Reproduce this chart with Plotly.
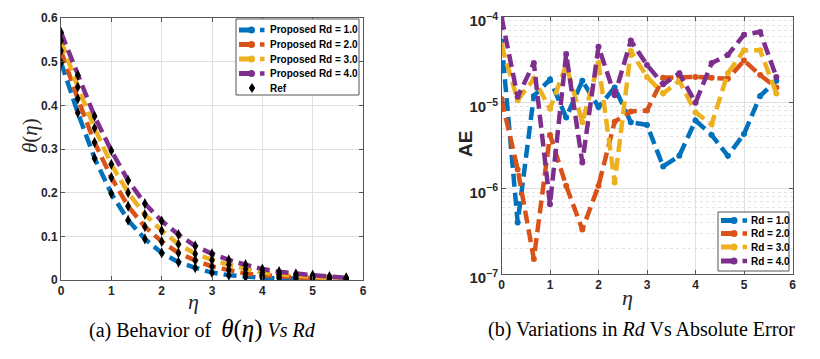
import plotly.graph_objects as go

eta = [0, 1/3, 2/3, 1, 4/3, 5/3, 2, 7/3, 8/3, 3, 10/3, 11/3, 4, 13/3, 14/3, 5, 16/3, 17/3]

theta_rd1 = [0.498, 0.383, 0.279, 0.198, 0.137, 0.094, 0.062, 0.041, 0.028, 0.017, 0.011, 0.007, 0.005, 0.004, 0.003, 0.002, 0.0015, 0.001]
theta_rd2 = [0.525, 0.415, 0.315, 0.235, 0.169, 0.122, 0.088, 0.062, 0.045, 0.031, 0.023, 0.015, 0.011, 0.008, 0.005, 0.004, 0.003, 0.002]
theta_rd3 = [0.548, 0.442, 0.348, 0.265, 0.200, 0.150, 0.113, 0.082, 0.060, 0.046, 0.035, 0.025, 0.017, 0.013, 0.009, 0.007, 0.005, 0.004]
theta_rd4 = [0.567, 0.469, 0.375, 0.296, 0.228, 0.175, 0.135, 0.104, 0.078, 0.060, 0.046, 0.035, 0.025, 0.019, 0.014, 0.011, 0.008, 0.005]

ae_rd1 = [5.2e-5, 4.0e-7, 1.2e-5, 1.86e-5, 6.7e-6, 1.8e-5, 8.9e-6, 1.5e-5, 5.9e-6, 5.5e-6, 1.8e-6, 2.4e-6, 6.2e-6, 4.2e-6, 2.4e-6, 4.3e-6, 1.2e-5, 1.8e-5]
ae_rd2 = [1.1e-5, 1.66e-6, 1.5e-7, 4.2e-6, 1.07e-6, 3.3e-7, 1.07e-6, 6.0e-6, 7.9e-6, 8.1e-6, 1.95e-5, 2.0e-5, 2.0e-5, 1.95e-5, 1.9e-5, 3.1e-5, 2.1e-5, 1.5e-5]
ae_rd3 = [4.7e-5, 1.07e-5, 1.9e-5, 8.5e-6, 2.75e-5, 5.9e-6, 2.9e-5, 1.17e-6, 4.0e-5, 2.0e-5, 1.28e-5, 1.8e-5, 7.7e-6, 5.6e-6, 2.2e-5, 4.1e-5, 4.1e-5, 1.28e-5]
ae_rd4 = [1.0e-4, 1.17e-5, 2.9e-5, 6.5e-7, 3.7e-5, 2.0e-6, 4.5e-5, 1.22e-5, 5.3e-5, 2.75e-5, 1.64e-5, 2.2e-5, 1.0e-5, 2.9e-5, 3.6e-5, 6.2e-5, 6.7e-5, 2.0e-5]

rd_labels = ["1.0", "2.0", "3.0", "4.0"]
colors = ["#0072BD", "#D95319", "#EDB120", "#7E2F8E"]

# page is 820x359 with an 8px body margin around the figure
OFF = 8
W, H = 820 - 2 * OFF, 359 - 2 * OFF
def fx(p):
    return (p - OFF) / W
def fy(p):
    return 1 - (p - OFF) / H

fig = go.Figure()

thetas = [theta_rd1, theta_rd2, theta_rd3, theta_rd4]
for lab, col, th in zip(rd_labels, colors, thetas):
    fig.add_trace(go.Scatter(
        x=eta, y=th, mode="lines+markers", name=f"Proposed Rd = {lab}",
        line=dict(color=col, width=4.5, dash="13px,6px"),
        marker=dict(symbol="circle", size=5, color=col),
        xaxis="x", yaxis="y"))

ref_x, ref_y = [], []
for th in thetas:
    ref_x += eta
    ref_y += th
fig.add_trace(go.Scatter(
    x=ref_x, y=ref_y, mode="markers", name="Ref",
    marker=dict(symbol="diamond-tall", size=8, color="black"),
    xaxis="x", yaxis="y"))

aes = [ae_rd1, ae_rd2, ae_rd3, ae_rd4]
for lab, col, ae in zip(rd_labels, colors, aes):
    fig.add_trace(go.Scatter(
        x=eta, y=ae, mode="lines+markers", name=f"Rd = {lab}",
        line=dict(color=col, width=4.5, dash="13px,6px"),
        marker=dict(symbol="circle", size=6, color=col),
        xaxis="x2", yaxis="y2"))

tickfont = dict(family="Liberation Sans", size=12, color="#262626", weight="bold")
axcommon = dict(showline=True, linecolor="#555", linewidth=1, mirror="ticks",
                ticks="inside", ticklen=4, tickcolor="#555",
                showgrid=True, gridcolor="#e0e0e0", gridwidth=1,
                zeroline=False, tickfont=tickfont, automargin=False,
                ticklabeloverflow="allow")

fig.update_layout(
    width=W, height=H,
    margin=dict(l=0, r=0, t=0, b=0),
    paper_bgcolor="white", plot_bgcolor="white",
    showlegend=False,
    xaxis=dict(domain=[fx(61), fx(363)], range=[0, 6], dtick=1, anchor="y", **axcommon),
    yaxis=dict(domain=[fy(280), fy(18)], range=[0, 0.6], dtick=0.1, anchor="x", **axcommon),
    xaxis2=dict(domain=[fx(501.5), fx(792.5)], range=[0, 6], dtick=1, anchor="y2", **axcommon),
    yaxis2=dict(domain=[fy(274), fy(17)], type="log", range=[-7, -4], dtick=1,
                exponentformat="power", anchor="x2", ticklabelshift=4,
                minor=dict(showgrid=True, gridcolor="#e3e3e3", griddash="dot", ticks="", dtick="D1"),
                **axcommon),
)

# ---- custom legends (MATLAB-like compact boxes) ----
shapes = []
annos = []
legfont = dict(family="Liberation Sans", size=10, color="black", weight="bold")

def legend_box(x0, x1, y0, y1):
    shapes.append(dict(type="rect", xref="paper", yref="paper",
                       x0=fx(x0), x1=fx(x1), y0=fy(y1), y1=fy(y0),
                       line=dict(color="#555", width=1), fillcolor="white", layer="above"))

def legend_line_entry(yc, col, bar0, bar1, cx, sq0, sq1, textx, text):
    shapes.append(dict(type="line", xref="paper", yref="paper",
                       x0=fx(bar0), x1=fx(bar1), y0=fy(yc), y1=fy(yc),
                       line=dict(color=col, width=5), layer="above"))
    r = 3.5
    shapes.append(dict(type="circle", xref="paper", yref="paper",
                       x0=fx(cx - r), x1=fx(cx + r), y0=fy(yc + r), y1=fy(yc - r),
                       line=dict(color=col, width=0), fillcolor=col, layer="above"))
    s = (sq1 - sq0) / 2
    shapes.append(dict(type="rect", xref="paper", yref="paper",
                       x0=fx(sq0), x1=fx(sq1), y0=fy(yc + s), y1=fy(yc - s),
                       line=dict(color=col, width=0), fillcolor=col, layer="above"))
    annos.append(dict(x=fx(textx), y=fy(yc), text=text, xanchor="left", yanchor="middle",
                      font=legfont))

# left legend
legend_box(236, 359, 19, 95)
rows_left = [30, 44.5, 59, 73.5]
for yc, col, lab in zip(rows_left, colors, rd_labels):
    legend_line_entry(yc, col, 239, 251, 251.5, 260, 264.5, 268, f"Proposed Rd = {lab}")
# Ref diamond
yr, xr = 88, 252
shapes.append(dict(type="path", xref="paper", yref="paper",
                   path=f"M {fx(xr)},{fy(yr-5)} L {fx(xr+3.2)},{fy(yr)} L {fx(xr)},{fy(yr+5)} L {fx(xr-3.2)},{fy(yr)} Z",
                   fillcolor="black", line=dict(color="black", width=0), layer="above"))
annos.append(dict(x=fx(268), y=fy(yr), text="Ref", xanchor="left", yanchor="middle", font=legfont))

# right legend
legend_box(718, 789, 212, 271)
rows_right = [220.5, 233.5, 247, 261]
for yc, col, lab in zip(rows_right, colors, rd_labels):
    legend_line_entry(yc, col, 721, 733, 734, 742.5, 747, 749, f"Rd = {lab}")

serif = "Liberation Serif"
annos += [
    dict(x=fx(193), y=fy(301), text="<i>η</i>", font=dict(family=serif, size=22, color="#262626")),
    dict(x=fx(627), y=fy(297), text="<i>η</i>", font=dict(family=serif, size=22, color="#262626")),
    dict(x=fx(30), y=fy(136), text="<i>θ</i>(<i>η</i>)", textangle=-90,
         font=dict(family=serif, size=21, color="#262626")),
    dict(x=fx(465), y=fy(144), text="<b>AE</b>", textangle=-90,
         font=dict(family="Liberation Sans", size=19, color="#262626")),
    dict(x=fx(202), y=fy(329),
         text="(a) Behavior of  <span style='font-size:25px'><i>θ</i>(<i>η</i>)</span> <i>Vs Rd</i>",
         font=dict(family=serif, size=20, color="black")),
    dict(x=fx(641), y=fy(329),
         text="(b) Variations in <i>Rd</i> Vs Absolute Error",
         font=dict(family=serif, size=20, color="black")),
]
for a in annos:
    a.setdefault("xanchor", "center")
    a.setdefault("yanchor", "middle")
    a.update(xref="paper", yref="paper", showarrow=False)
    fig.add_annotation(**a)

fig.update_layout(shapes=shapes)
fig.write_html("out.html")
